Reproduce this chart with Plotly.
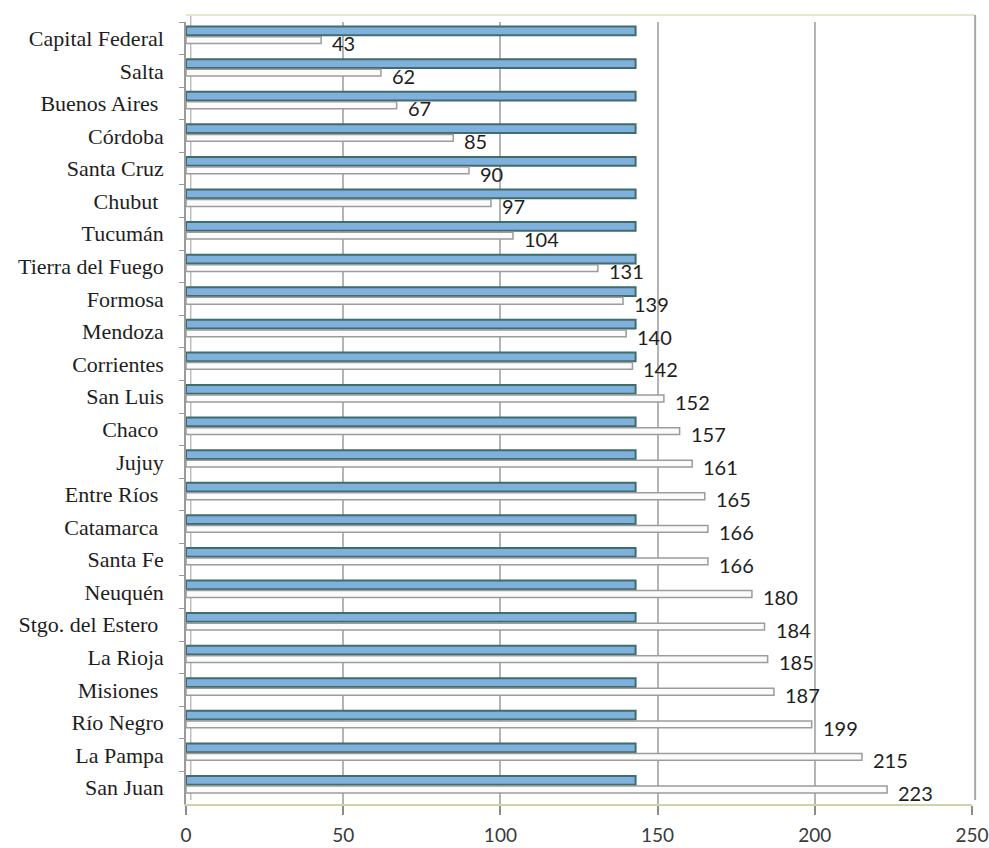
import plotly.graph_objects as go

# Provinces, top to bottom
provinces = [
    "Capital Federal", "Salta", "Buenos Aires\u00a0", "Córdoba", "Santa Cruz",
    "Chubut\u00a0", "Tucumán", "Tierra del Fuego", "Formosa", "Mendoza",
    "Corrientes", "San Luis", "Chaco\u00a0", "Jujuy", "Entre Ríos\u00a0",
    "Catamarca\u00a0", "Santa Fe", "Neuquén", "Stgo. del Estero\u00a0", "La Rioja",
    "Misiones\u00a0", "Río Negro", "La Pampa", "San Juan",
]
province_values = [43, 62, 67, 85, 90, 97, 104, 131, 139, 140, 142, 152, 157,
                   161, 165, 166, 166, 180, 184, 185, 187, 199, 215, 223]
national_values = [143] * len(provinces)
x_ticks = [0, 50, 100, 150, 200, 250]

fig = go.Figure()

# national reference bar (upper bar of each pair)
fig.add_trace(go.Bar(
    y=provinces, x=national_values, orientation="h",
    offset=-0.36, width=0.27,
    marker=dict(color="#80b0de", line=dict(color="#3f6d6a", width=2)),
    hoverinfo="skip", showlegend=False,
))

# provincial bar (lower bar of each pair)
fig.add_trace(go.Bar(
    y=provinces, x=province_values, orientation="h",
    offset=-0.05, width=0.21,
    marker=dict(color="#fbfbfb", line=dict(color="#9c9c9c", width=1.5)),
    hoverinfo="skip", showlegend=False,
))

# value labels at the end of each provincial bar
for name, v in zip(provinces, province_values):
    fig.add_annotation(
        x=v, y=name, text=str(v), showarrow=False,
        xanchor="left", yanchor="middle", xshift=9, yshift=-5,
        font=dict(family="Lato", size=20, color="#1e1e1e"),
    )

# chart frame: pale top edge, grey right wall, left wall inner edge
fig.add_shape(type="line", xref="paper", yref="paper", x0=0, x1=1.004, y0=1.009, y1=1.009,
              line=dict(color="#e6e6cc", width=2))
fig.add_shape(type="line", xref="paper", yref="paper", x0=1.004, x1=1.004, y0=0.005, y1=1.009,
              line=dict(color="#a8a8a8", width=2))
fig.add_shape(type="line", xref="paper", yref="paper", x0=0.006, x1=0.006, y0=0.005, y1=1.009,
              line=dict(color="#bdbdbd", width=1.5), layer="below")

fig.update_layout(
    width=989, height=848,
    margin=dict(l=186, r=17, t=22, b=44),
    paper_bgcolor="white", plot_bgcolor="white",
    barmode="overlay",
    xaxis=dict(
        range=[0, 250], tickvals=x_ticks, ticktext=[str(t) for t in x_ticks],
        showgrid=True, gridcolor="#b4b4b4", gridwidth=2,
        zeroline=False, automargin=False,
        showline=True, linecolor="#c9d6aa", linewidth=2,
        ticks="outside", ticklen=9, tickcolor="#8c8c8c", tickwidth=1.5,
        ticklabelstandoff=4,
        tickfont=dict(family="Lato", size=19, color="#3a3a3a"),
    ),
    yaxis=dict(
        type="category", autorange=False, range=[len(provinces) - 0.5, -0.5],
        showgrid=False, zeroline=False, automargin=False,
        showline=True, linecolor="#9a9a9a", linewidth=1.5,
        ticks="outside", tickson="boundaries", ticklen=5, tickcolor="#9a9a9a",
        ticklabelstandoff=16,
        tickfont=dict(family="Liberation Serif", size=22, color="#1e1e1e"),
    ),
)

fig.write_html("out.html")
